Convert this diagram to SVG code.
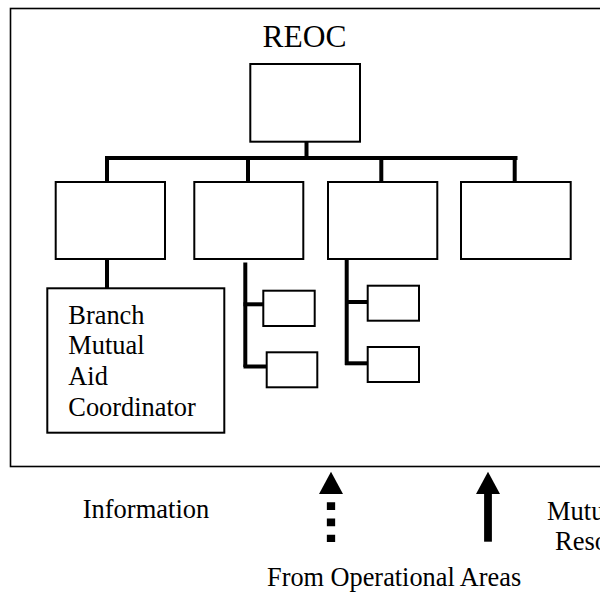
<svg xmlns="http://www.w3.org/2000/svg" width="600" height="592" viewBox="0 0 600 592">
<style>
.box{fill:#fff;stroke:#000;stroke-width:2}
.frame{fill:#fff;stroke:#000;stroke-width:1.6}
.conn{stroke:#000;stroke-width:4;fill:none}
.t{font-family:"Liberation Serif","Times New Roman",serif;fill:#000}
</style>
<rect class="frame" x="10.5" y="8.5" width="600" height="458"/>
<text class="t" x="262.5" y="46.5" font-size="31.5">REOC</text>
<g id="connectors">
<line class="conn" x1="306.5" y1="142" x2="306.5" y2="158"/>
<line class="conn" x1="105" y1="158" x2="517.5" y2="158"/>
<line class="conn" x1="107" y1="158" x2="107" y2="182"/>
<line class="conn" x1="248" y1="158" x2="248" y2="184"/>
<line class="conn" x1="381.3" y1="158" x2="381.3" y2="184"/>
<line class="conn" x1="514.7" y1="158" x2="514.7" y2="182"/>
<line class="conn" x1="107" y1="259" x2="107" y2="288"/>
<line class="conn" x1="245.3" y1="262.5" x2="245.3" y2="367"/>
<line class="conn" x1="243.5" y1="304.3" x2="264" y2="304.3"/>
<line class="conn" x1="243.5" y1="366.5" x2="267" y2="366.5"/>
<line class="conn" x1="346.7" y1="259" x2="346.7" y2="365"/>
<line class="conn" x1="345" y1="302" x2="370.5" y2="302"/>
<line class="conn" x1="345" y1="363.3" x2="368" y2="363.3"/>
</g>
<g id="node-top"><rect class="box" x="250.3" y="64" width="109.7" height="77.7"/></g>
<g id="node-b1"><rect class="box" x="55.7" y="182" width="109.3" height="77"/></g>
<g id="node-b2"><rect class="box" x="194.3" y="182" width="109" height="77"/></g>
<g id="node-b3"><rect class="box" x="328" y="182" width="109.3" height="77"/></g>
<g id="node-b4"><rect class="box" x="461" y="182" width="109.7" height="77"/></g>
<g id="node-branch">
<rect class="box" x="47.3" y="288.3" width="177" height="144.4"/>
<text class="t" font-size="26.4" x="68.3" y="324">Branch</text>
<text class="t" font-size="26.4" x="68.3" y="354">Mutual</text>
<text class="t" font-size="26.4" x="68.3" y="384.5">Aid</text>
<text class="t" font-size="26.4" x="68.3" y="416">Coordinator</text>
</g>
<g id="node-s1"><rect class="box" x="263.3" y="290.7" width="51.4" height="35.3"/></g>
<g id="node-s2"><rect class="box" x="266.7" y="352.3" width="50.6" height="35"/></g>
<g id="node-s3"><rect class="box" x="367.7" y="285.7" width="51.3" height="35"/></g>
<g id="node-s4"><rect class="box" x="367.7" y="347" width="51.3" height="35"/></g>
<g id="arrows">
<line x1="331" y1="502.3" x2="331" y2="542" stroke="#000" stroke-width="8.3" stroke-dasharray="7.8 8.4"/>
<polygon points="331,471.7 319,494 343,494" fill="#000"/>
<line x1="488" y1="492" x2="488" y2="541.7" stroke="#000" stroke-width="7.8"/>
<polygon points="488,471.7 476,494 500,494" fill="#000"/>
</g>
<text class="t" font-size="26.5" x="82.7" y="518">Information</text>
<text class="t" font-size="26.5" x="547" y="520">Mutu</text>
<text class="t" font-size="26.5" x="555" y="550">Reso</text>
<text class="t" font-size="26.3" x="267" y="586">From Operational Areas</text>
</svg>
